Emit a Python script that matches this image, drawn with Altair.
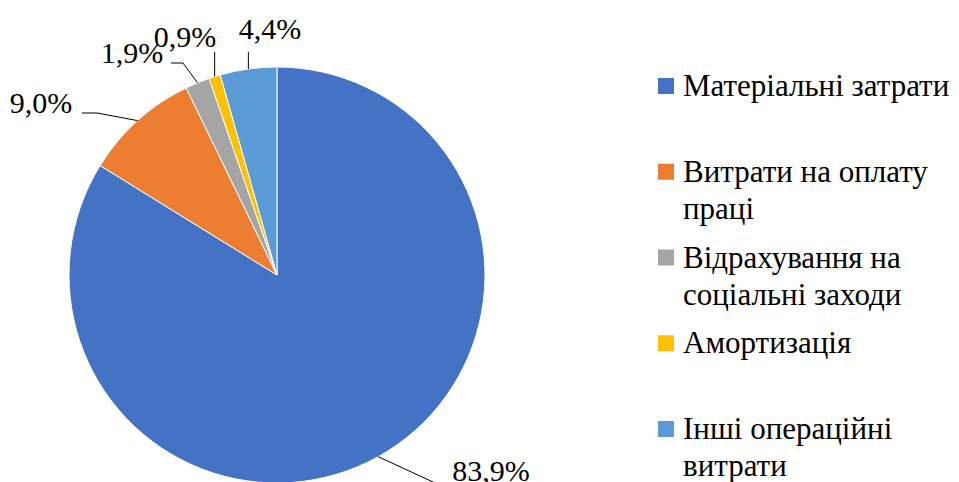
import math
import altair as alt
import pandas as pd

# ---- data ----
CATEGORIES = [
    "Матеріальні затрати",
    "Витрати на оплату праці",
    "Відрахування на соціальні заходи",
    "Амортизація",
    "Інші операційні витрати",
]
SHARES = [83.9, 9.0, 1.9, 0.9, 4.4]
LEGEND_LABELS = [
    "Матеріальні затрати",
    "Витрати на оплату\nпраці",
    "Відрахування на\nсоціальні заходи",
    "Амортизація",
    "Інші операційні\nвитрати",
]
COLORS = ["#4472C4", "#ED7D31", "#A5A5A5", "#FFC000", "#5B9BD5"]

# ---- layout (pixels) ----
W, H = 959, 482
CX, CY, R = 277, 275, 208
FONT = "Liberation Serif"
# label centre / baseline and leader-line bend points (None -> vertical from edge)
LABEL_LAYOUT = [
    {"x": 491, "y": 481, "path": [(433, 482), (447, 489)]},
    {"x": 41, "y": 113, "path": [(97, 113), (82, 113)]},
    {"x": 132, "y": 63, "path": [(183, 63), (171, 63)]},
    {"x": 185, "y": 47, "path": [(None, 52)]},
    {"x": 270, "y": 39, "path": [(None, 52)]},
]

total = sum(SHARES)
pie_df = pd.DataFrame({
    "cat": CATEGORIES,
    "share": SHARES,
    "idx": list(range(len(CATEGORIES))),
})

# derived positions of label texts and leader lines
label_rows, line_rows = [], []
cum = 0.0
for i, v in enumerate(SHARES):
    a0 = cum / total * 2 * math.pi
    cum += v
    a1 = cum / total * 2 * math.pi
    am = (a0 + a1) / 2
    ex = CX + R * math.sin(am)
    ey = CY - R * math.cos(am)
    lay = LABEL_LAYOUT[i]
    label_rows.append({
        "x": lay["x"], "y": lay["y"],
        "txt": f"{v:.1f}".replace(".", ",") + "%",
    })
    pts = [(ex, ey)] + [((ex if px is None else px), py) for px, py in lay["path"]]
    for k, (px, py) in enumerate(pts):
        line_rows.append({"g": i, "k": k, "x": px, "y": py})

label_df = pd.DataFrame(label_rows)
line_df = pd.DataFrame(line_rows)
legend_df = pd.DataFrame({"cat": CATEGORIES, "lab": LEGEND_LABELS})

color_scale = alt.Scale(domain=CATEGORIES, range=COLORS)

pie = alt.Chart(pie_df).mark_arc(
    radius=R, stroke="white", strokeWidth=1
).encode(
    theta=alt.Theta("share:Q", stack=True),
    order=alt.Order("idx:Q"),
    color=alt.Color("cat:N", scale=color_scale, legend=None),
    x=alt.value(CX),
    y=alt.value(CY),
)

leaders = alt.Chart(line_df).mark_line(color="black", strokeWidth=1).encode(
    x=alt.X("x:Q", scale=None, axis=None),
    y=alt.Y("y:Q", scale=None, axis=None),
    detail="g:N",
    order="k:Q",
)

labels = alt.Chart(label_df).mark_text(
    font=FONT, fontSize=30, align="center", baseline="alphabetic", color="black"
).encode(
    x=alt.X("x:Q", scale=None, axis=None),
    y=alt.Y("y:Q", scale=None, axis=None),
    text="txt:N",
)

leg_y = alt.Y("cat:N", scale=alt.Scale(domain=CATEGORIES, range=[86, 429], padding=0), axis=None)

swatches = alt.Chart(legend_df).mark_square(size=256, opacity=1).encode(
    x=alt.value(666),
    y=leg_y,
    color=alt.Color("cat:N", scale=color_scale, legend=None),
)

leg_text = alt.Chart(legend_df).mark_text(
    font=FONT, fontSize=31, align="left", baseline="alphabetic", dy=10,
    lineBreak="\n", lineHeight=37, color="black"
).encode(
    x=alt.value(683),
    y=leg_y,
    text="lab:N",
)

chart = alt.layer(pie, leaders, labels, swatches, leg_text).resolve_scale(
    x="independent", y="independent"
).properties(
    width=W, height=H, padding=0, autosize=alt.AutoSizeParams(type="none"),
    background="white",
).configure_view(stroke=None)

chart.save("out.html", embed_options={"renderer": "svg", "actions": False})
